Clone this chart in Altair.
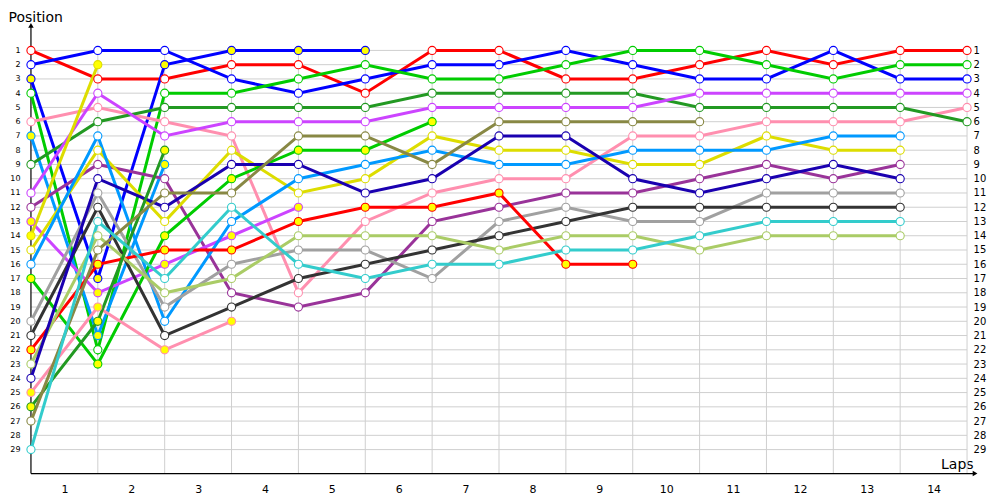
import altair as alt
import pandas as pd

# Running positions: index 0 = grid, index k = end of lap k
red_a     = [1, 3, 3, 2, 2, 4, 1, 1, 3, 3, 2, 1, 2, 1, 1]
blue_a    = [2, 1, 1, 3, 4, 3, 2, 2, 1, 2, 3, 3, 1, 3, 3]
blue_b    = [3, 17, 2, 1, 1, 1]
green_a   = [4, 22, 4, 4, 3, 2, 3, 3, 2, 1, 1, 2, 3, 2, 2]
pink_a    = [6, 5, 6, 7, 18, 13, 11, 10, 10, 7, 7, 6, 6, 6, 5]
sky_b     = [7, 21, 9]
dkgreen_a = [9, 6, 5, 5, 5, 5, 4, 4, 4, 4, 5, 5, 5, 5, 6]
violet_a  = [11, 4, 7, 6, 6, 6, 5, 5, 5, 5, 4, 4, 4, 4, 4]
purple    = [12, 9, 10, 18, 19, 18, 13, 12, 11, 11, 10, 9, 10, 9]
violet_b  = [13, 18, 16, 14, 12]
yellow_a  = [14, 2]
yellow_b  = [15, 8, 13, 8, 11, 10, 7, 8, 8, 9, 9, 7, 8, 8]
sky_a     = [16, 7, 20, 13, 10, 9, 8, 9, 9, 8, 8, 8, 7, 7]
green_b   = [17, 23, 14, 10, 8, 8, 6]
gray      = [20, 11, 19, 16, 15, 15, 17, 13, 12, 13, 13, 11, 11, 11]
dkgray    = [21, 12, 21, 19, 17, 16, 15, 14, 13, 12, 12, 12, 12, 12]
red_b     = [22, 16, 15, 15, 13, 12, 12, 11, 16, 16]
ltgreen   = [23, 14, 18, 17, 14, 14, 14, 15, 14, 14, 15, 14, 14, 14]
navy      = [24, 10, 12, 9, 9, 11, 10, 7, 7, 10, 11, 10, 9, 10]
pink_b    = [25, 19, 22, 20]
dkgreen_b = [26, 20, 8]
olive     = [27, 15, 11, 11, 7, 7, 9, 6, 6, 6, 6]
cyan      = [29, 13, 17, 12, 16, 17, 16, 16, 15, 15, 14, 13, 13, 13]

names = ["red_a", "blue_a", "blue_b", "green_a", "pink_a", "sky_b", "dkgreen_a",
         "violet_a", "purple", "violet_b", "yellow_a", "yellow_b", "sky_a", "green_b",
         "gray", "dkgray", "red_b", "ltgreen", "navy", "pink_b", "dkgreen_b", "olive", "cyan"]
series = [red_a, blue_a, blue_b, green_a, pink_a, sky_b, dkgreen_a, violet_a, purple,
          violet_b, yellow_a, yellow_b, sky_a, green_b, gray, dkgray, red_b, ltgreen,
          navy, pink_b, dkgreen_b, olive, cyan]
colors = ["#FF0000", "#0000FF", "#0000FF", "#00CC00", "#FF8FAF", "#0099FF", "#229922",
          "#CC44FF", "#993399", "#CC44FF", "#DDDD00", "#DDDD00", "#0099FF", "#00CC00",
          "#A0A0A0", "#333333", "#FF0000", "#AACC66", "#1A00B0", "#FF8FAF", "#229922",
          "#888844", "#33CCCC"]
pitted = [False, False, True, False, False, True, False, False, False, True, True, False,
          False, True, False, False, True, False, False, True, True, False, False]

laps = list(range(1, 15))
positions = list(range(1, 30))

rows = []
for n, s, f in zip(names, series, pitted):
    for c, p in enumerate(s):
        rows.append({"driver": n, "col": c, "pos": p, "fc": "#FFFF00" if f else "#FFFFFF"})
df = pd.DataFrame(rows)

W, H = 986, 490
X0, DX = 23, 67.0          # pixel of column 0, pixels per column
Y0, DY = 42, 400 / 28.0    # pixel of position 1, pixels per position
xs = alt.Scale(domain=[-X0 / DX, (W - X0) / DX], nice=False, zero=False)
ys = alt.Scale(domain=[1 - Y0 / DY, 1 + (H - Y0) / DY], nice=False, zero=False, reverse=True)
AXIS_Y = 466               # pixel of the lap axis line
y_axis_val = 1 + (AXIS_Y - Y0) / DY
y_top_val = 1 + (17 - Y0) / DY
x_end_val = 14.12

FONT = "DejaVu Sans"
color_scale = alt.Scale(domain=names, range=colors)

hgrid_df = pd.DataFrame({"pos": positions, "x0": 0, "x1": laps[-1]})
hgrid = alt.Chart(hgrid_df).mark_rule(color="#CFCFCF", strokeWidth=1).encode(
    x=alt.X("x0:Q", scale=xs, axis=None),
    x2="x1:Q",
    y=alt.Y("pos:Q", scale=ys, axis=alt.Axis(
        orient="left", offset=-X0, values=positions, domain=False, ticks=False,
        tickSize=0, grid=False, labelPadding=11, labelFontSize=8, labelFont=FONT,
        labelColor="black", title="Position", titleAngle=0, titleX=-X0, titleY=13,
        titleAlign="left", titleBaseline="alphabetic", titleFontSize=14,
        titleFontWeight="normal", titleFont=FONT, titleColor="black")),
)

vgrid_df = pd.DataFrame({"col": laps, "y0": 1, "y1": y_axis_val})
vgrid = alt.Chart(vgrid_df).mark_rule(color="#CFCFCF", strokeWidth=1).encode(
    x=alt.X("col:Q", scale=xs, axis=alt.Axis(
        orient="bottom", offset=-(H - AXIS_Y), values=[l - 0.5 for l in laps],
        labelExpr="round(datum.value + 0.5)", domain=False, ticks=False, tickSize=0,
        grid=False, labelPadding=10, labelFontSize=11, labelFont=FONT,
        labelColor="black", labelOverlap=False, labelFlush=False,
        title="Laps", titleX=W - 19, titleY=-5, titleAlign="right",
        titleBaseline="alphabetic", titleFontSize=14, titleFontWeight="normal",
        titleFont=FONT, titleColor="black")),
    y=alt.Y("y0:Q", scale=ys, axis=None),
    y2="y1:Q",
)

axes_df = pd.DataFrame({"x": [0, 0], "x2": [0, x_end_val],
                        "y": [y_top_val, y_axis_val], "y2": [y_axis_val, y_axis_val]})
axis_lines = alt.Chart(axes_df).mark_rule(color="black", strokeWidth=1.2).encode(
    x=alt.X("x:Q", scale=xs, axis=None), x2="x2:Q",
    y=alt.Y("y:Q", scale=ys, axis=None), y2="y2:Q",
)
arrow_df = pd.DataFrame({"x": [x_end_val, 0], "y": [y_axis_val, y_top_val],
                         "shape": ["triangle-right", "triangle-up"]})
arrows = alt.Chart(arrow_df).mark_point(filled=True, color="black", size=30, opacity=1).encode(
    x=alt.X("x:Q", scale=xs, axis=None),
    y=alt.Y("y:Q", scale=ys, axis=None),
    shape=alt.Shape("shape:N", scale=None),
)

lines = alt.Chart(df).mark_line(strokeWidth=3).encode(
    x=alt.X("col:Q", scale=xs, axis=None),
    y=alt.Y("pos:Q", scale=ys, axis=None),
    color=alt.Color("driver:N", scale=color_scale, legend=None),
)
points = alt.Chart(df).mark_circle(size=66, strokeWidth=1.1, opacity=1).encode(
    x=alt.X("col:Q", scale=xs, axis=None),
    y=alt.Y("pos:Q", scale=ys, axis=None),
    fill=alt.Fill("fc:N", scale=None),
    stroke=alt.Stroke("driver:N", scale=color_scale, legend=None),
)

right = alt.Chart(pd.DataFrame({"pos": positions, "col": 0})).mark_point(opacity=0).encode(
    x=alt.X("col:Q", scale=xs, axis=None),
    y=alt.Y("pos:Q", scale=ys, axis=alt.Axis(
        orient="right", offset=-(W - X0 - 14 * DX), values=positions, domain=False,
        ticks=False, tickSize=0, grid=False, labelPadding=6, labelFontSize=10,
        labelFont=FONT, labelColor="black", title=None)),
)

chart = alt.layer(hgrid, vgrid, axis_lines, arrows, lines, points, right).resolve_axis(
    x="independent", y="independent"
).properties(
    width=W, height=H, padding=0, autosize=alt.AutoSizeParams(type="none"),
    background="white",
).configure_view(stroke=None)

chart.save("out.html", embed_options={"renderer": "svg", "actions": False})
